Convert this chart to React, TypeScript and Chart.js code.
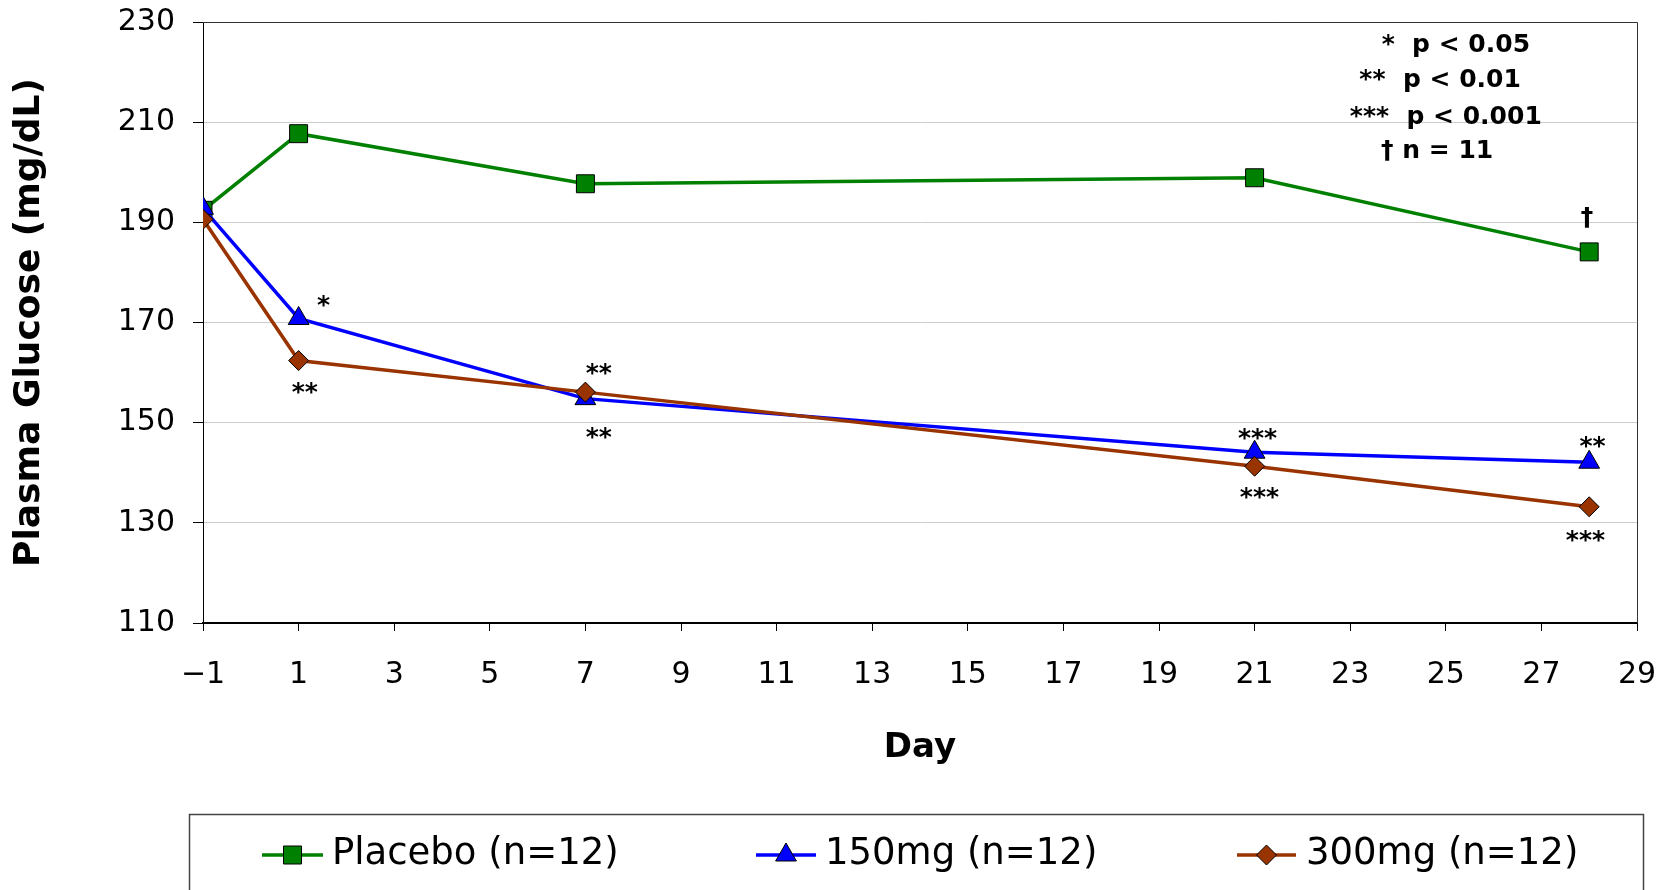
import React, { useEffect, useRef } from 'react';
import { Chart, registerables } from 'chart.js';

Chart.register(...registerables);

// ---------- data ----------
const days = [-1, 1, 7, 21, 28];
const placebo = [192.4, 207.7, 197.7, 198.9, 184.1];
const mg150 = [192.8, 170.8, 154.8, 144.1, 142.1];
const mg300 = [190.6, 162.4, 156.1, 141.3, 133.2];
const seriesLabels = ['Placebo (n=12)', '150mg (n=12)', '300mg (n=12)'];
const seriesColors = ['#008000', '#0000FF', '#993300'];
const xTickValues = [-1, 1, 3, 5, 7, 9, 11, 13, 15, 17, 19, 21, 23, 25, 27, 29];
const yTickValues = [110, 130, 150, 170, 190, 210, 230];
const yTitle = 'Plasma Glucose (mg/dL)';
const xTitle = 'Day';

// significance marks: [day, value, text]
const markDays = [1.52, 1.13, 7.28, 7.28, 21.06, 21.1, 28.07, 27.92, 27.95];
const markValues = [174.3, 157.0, 160.7, 147.9, 147.7, 135.9, 146.1, 127.3, 190.9];
const markTexts = ['*', '**', '**', '**', '***', '***', '**', '***', '\u2020'];

// key text (top right): center day, baseline value
const keyTexts = ['*  p < 0.05', '**  p < 0.01', '***  p < 0.001', '\u2020 n = 11'];
const keyDays = [25.21, 24.88, 25.0, 24.82];
const keyValues = [224.1, 217.1, 209.7, 202.8];

const FONT = '"DejaVu Sans", sans-serif';

function drawCentered(ctx: CanvasRenderingContext2D, text: string, cx: number, cy: number) {
  const m = ctx.measureText(text);
  const w = m.actualBoundingBoxLeft + m.actualBoundingBoxRight;
  const h = m.actualBoundingBoxAscent + m.actualBoundingBoxDescent;
  ctx.textAlign = 'left';
  ctx.textBaseline = 'alphabetic';
  ctx.fillText(text, cx - w / 2 + m.actualBoundingBoxLeft, cy - h / 2 + m.actualBoundingBoxAscent);
}

function drawMarker(ctx: CanvasRenderingContext2D, kind: number, x: number, y: number, color: string) {
  ctx.beginPath();
  if (kind === 0) {
    const s = 9;
    ctx.rect(x - s, y - s, 2 * s, 2 * s);
  } else if (kind === 1) {
    const r = 12;
    ctx.moveTo(x, y - r);
    ctx.lineTo(x + r * 0.866, y + r * 0.5);
    ctx.lineTo(x - r * 0.866, y + r * 0.5);
    ctx.closePath();
  } else {
    const r = 10;
    ctx.moveTo(x - r, y);
    ctx.lineTo(x, y - r);
    ctx.lineTo(x + r, y);
    ctx.lineTo(x, y + r);
    ctx.closePath();
  }
  ctx.fillStyle = color;
  ctx.fill();
  ctx.lineWidth = 1;
  ctx.strokeStyle = '#000';
  ctx.stroke();
}

const overlayPlugin = {
  id: 'overlay',
  afterDraw(chart: any) {
    const ctx: CanvasRenderingContext2D = chart.ctx;
    const { left, right, top, bottom } = chart.chartArea;
    const xs = chart.scales.x;
    const ys = chart.scales.y;
    ctx.save();
    // plot frame (top/right)
    ctx.strokeStyle = '#333';
    ctx.lineWidth = 1;
    ctx.beginPath();
    ctx.moveTo(left, Math.round(top) + 0.5);
    ctx.lineTo(Math.round(right) + 0.5, Math.round(top) + 0.5);
    ctx.lineTo(Math.round(right) + 0.5, bottom);
    ctx.stroke();

    // significance marks
    ctx.fillStyle = '#000';
    ctx.font = `bold 25px ${FONT}`;
    for (let i = 0; i < markTexts.length; i++) {
      drawCentered(ctx, markTexts[i], xs.getPixelForValue(markDays[i]), ys.getPixelForValue(markValues[i]));
    }
    // key
    ctx.font = `bold 25px ${FONT}`;
    ctx.textAlign = 'center';
    ctx.textBaseline = 'alphabetic';
    for (let i = 0; i < keyTexts.length; i++) {
      ctx.fillText(keyTexts[i], xs.getPixelForValue(keyDays[i]), ys.getPixelForValue(keyValues[i]));
    }

    // legend box
    ctx.strokeStyle = '#444';
    ctx.lineWidth = 1.5;
    ctx.strokeRect(189.5, 814.5, 1643 - 189, 120);
    const lineStarts = [262, 756, 1237];
    const lineEnds = [323, 816, 1296];
    const textStarts = [332, 825, 1306];
    const ly = 855;
    ctx.font = `37px ${FONT}`;
    for (let i = 0; i < 3; i++) {
      ctx.strokeStyle = seriesColors[i];
      ctx.lineWidth = 3.5;
      ctx.beginPath();
      ctx.moveTo(lineStarts[i], ly);
      ctx.lineTo(lineEnds[i], ly);
      ctx.stroke();
      drawMarker(ctx, i, (lineStarts[i] + lineEnds[i]) / 2, ly, seriesColors[i]);
      ctx.fillStyle = '#000';
      ctx.textAlign = 'left';
      ctx.textBaseline = 'alphabetic';
      ctx.fillText(seriesLabels[i], textStarts[i], 864);
    }
    ctx.restore();
  },
};

export default function App() {
  const ref = useRef<HTMLCanvasElement | null>(null);
  useEffect(() => {
    if (!ref.current) return;
    const mk = (vals: number[]) => days.map((d, i) => ({ x: d, y: vals[i] }));
    const common = { borderWidth: 3.5, pointBorderColor: '#000', pointBorderWidth: 1 };
    const chart = new Chart(ref.current, {
      type: 'line',
      data: {
        datasets: [
          {
            ...common,
            label: seriesLabels[0],
            data: mk(placebo),
            borderColor: seriesColors[0],
            backgroundColor: seriesColors[0],
            pointStyle: 'rect',
            pointRadius: 12.7,
            pointHoverRadius: 12.7,
            order: 3,
          },
          {
            ...common,
            label: seriesLabels[1],
            data: mk(mg150),
            borderColor: seriesColors[1],
            backgroundColor: seriesColors[1],
            pointStyle: 'triangle',
            pointRadius: 12,
            pointHoverRadius: 12,
            order: 2,
          },
          {
            ...common,
            label: seriesLabels[2],
            data: mk(mg300),
            borderColor: seriesColors[2],
            backgroundColor: seriesColors[2],
            pointStyle: 'rectRot',
            pointRadius: 10,
            pointHoverRadius: 10,
            order: 1,
          },
        ],
      },
      options: {
        responsive: false,
        animation: false,
        events: [],
        layout: { autoPadding: false, padding: { left: 0, top: 22, right: 35, bottom: 107 } },
        plugins: { legend: { display: false }, tooltip: { enabled: false } },
        scales: {
          x: {
            type: 'linear',
            min: -1,
            max: 29,
            afterFit: (s: any) => {
              s.height = 160;
              s.paddingLeft = 0;
              s.paddingRight = 0;
            },
            afterBuildTicks: (s: any) => { s.ticks = xTickValues.map((v) => ({ value: v })); },
            grid: { drawOnChartArea: false, drawTicks: true, tickLength: 8, tickColor: '#000', color: '#000' },
            border: { color: '#000', width: 2 },
            ticks: {
              autoSkip: false,
              maxRotation: 0,
              color: '#000',
              padding: 26,
              font: { family: FONT, size: 30 },
              callback: (v: any) => (Number(v) < 0 ? '\u2212' + Math.abs(Number(v)) : String(v)),
            },
            title: {
              display: true,
              text: xTitle,
              color: '#000',
              font: { family: FONT, size: 34, weight: 'bold' },
              padding: { top: 0, bottom: 14 },
            },
          },
          y: {
            type: 'linear',
            min: 110,
            max: 230,
            afterFit: (s: any) => {
              s.width = 203;
              s.paddingTop = 0;
              s.paddingBottom = 0;
            },
            afterBuildTicks: (s: any) => { s.ticks = yTickValues.map((v) => ({ value: v })); },
            grid: {
              drawTicks: true,
              tickLength: 10,
              tickColor: '#000',
              color: (c: any) => (c.tick && c.tick.value === 230 ? '#333' : '#cccccc'),
              lineWidth: 1,
            },
            border: { color: '#000', width: 1 },
            ticks: {
              color: '#000',
              padding: 18,
              font: { family: FONT, size: 30 },
            },
            title: {
              display: true,
              text: yTitle,
              color: '#000',
              font: { family: FONT, size: 36, weight: 'bold' },
              padding: { top: 8, bottom: 0 },
            },
          },
        },
      },
      plugins: [overlayPlugin],
    });
    return () => chart.destroy();
  }, []);
  return (
    <div style={{ position: 'absolute', left: 0, top: 0, width: 1672, height: 890, background: '#fff' }}>
      <canvas ref={ref} width={1672} height={890} />
    </div>
  );
}
